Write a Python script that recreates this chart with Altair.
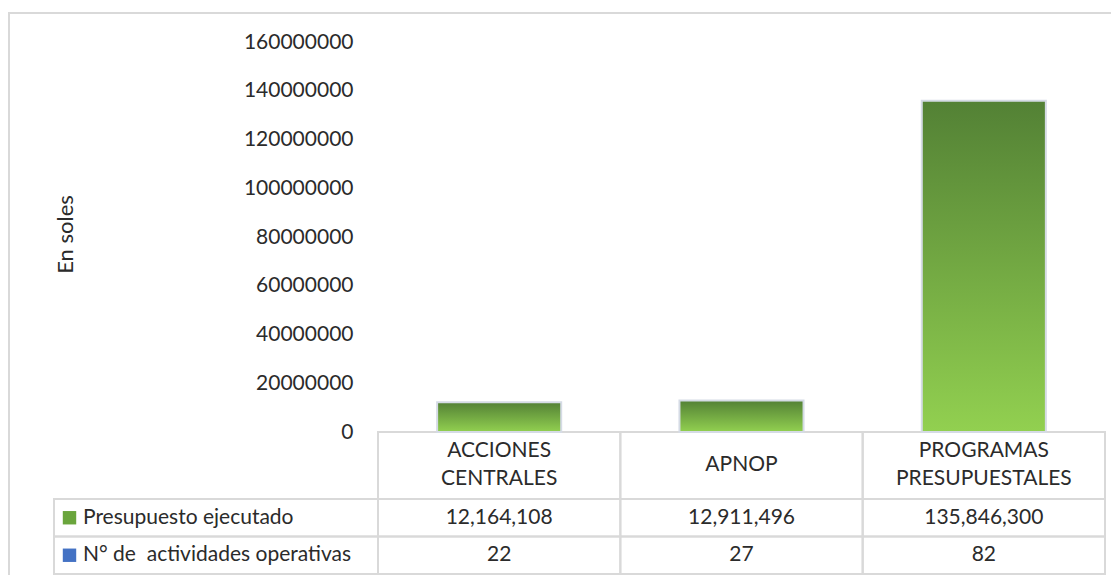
import altair as alt
import pandas as pd

# ---- data ----
categories = ["ACCIONES CENTRALES", "APNOP", "PROGRAMAS PRESUPUESTALES"]
presupuesto = [12164108, 12911496, 135846300]
actividades = [22, 27, 82]
row_names = ["Presupuesto ejecutado", "N° de\u00a0 actividades operativas"]
y_ticks = [0, 20000000, 40000000, 60000000, 80000000, 100000000, 120000000, 140000000, 160000000]
y_domain = [0, 160000000]

FONT = "Lato"
TXT = "#2b2b2b"
GRID = "#d9d9d9"

bars_df = pd.DataFrame({"cat": categories, "value": presupuesto})
rows_df = pd.DataFrame({"row": row_names})
cats_df = pd.DataFrame({"cat": categories})
cells = []
for c, p, a in zip(categories, presupuesto, actividades):
    cells.append({"cat": c, "row": row_names[0], "txt": f"{p:,}"})
    cells.append({"cat": c, "row": row_names[1], "txt": f"{a}"})
cells_df = pd.DataFrame(cells)

# header label lines: split words onto lines, slot names tell which line
slots = ["top", "middle", "bottom"]
hdr = []
for c in categories:
    words = c.split(" ")
    if len(words) == 1:
        hdr.append({"cat": c, "line": words[0], "slot": "middle"})
    else:
        hdr.append({"cat": c, "line": words[0], "slot": "top"})
        hdr.append({"cat": c, "line": " ".join(words[1:]), "slot": "bottom"})
hdr_df = pd.DataFrame(hdr)

# scales
x_scale = alt.Scale(domain=categories, range=[370, 1097], paddingInner=0, paddingOuter=0)
y_scale = alt.Scale(domain=y_domain, range=[424, 34], nice=False)
row_scale = alt.Scale(domain=row_names, range=[491, 566], paddingInner=0, paddingOuter=0)
slot_scale = alt.Scale(type="point", domain=slots, range=[443, 471], padding=0)

X = alt.X("cat:N", scale=x_scale, axis=None, sort=categories)
XC = alt.X("cat:N", scale=x_scale, axis=None, sort=categories, bandPosition=0.5)
ROW = alt.Y("row:N", scale=row_scale, axis=None, sort=row_names)
ROWC = alt.Y("row:N", scale=row_scale, axis=None, sort=row_names, bandPosition=0.5)

grad = alt.Gradient(
    gradient="linear",
    stops=[alt.GradientStop(color="#538135", offset=0),
           alt.GradientStop(color="#92D050", offset=1)],
    x1=0, x2=0, y1=0, y2=1,
)

bars = alt.Chart(bars_df).mark_bar(
    width=alt.RelativeBandSize(0.512), fill=grad, stroke="#d5dbe5", strokeWidth=2
).encode(
    x=X,
    y=alt.Y("value:Q", scale=y_scale,
            axis=alt.Axis(values=y_ticks, format="d", orient="left", offset=-370,
                          domain=False, ticks=False, tickSize=0, grid=False,
                          labelPadding=25, labelFont=FONT, labelFontSize=21, labelColor=TXT,
                          title="En soles", titleFont=FONT, titleFontSize=22,
                          titleFontWeight="normal", titleColor=TXT,
                          titleX=-313, titleY=226, titleAngle=-90,
                          titleBaseline="middle", titleAlign="center")),
)

# table frames
row_frames = alt.Chart(rows_df).mark_rect(
    fillOpacity=0, stroke=GRID, strokeWidth=2
).encode(x=alt.value(46), x2=alt.value(1097), y=ROW)

col_frames = alt.Chart(cats_df).mark_rect(
    fillOpacity=0, stroke=GRID, strokeWidth=2
).encode(x=X, y=alt.value(424), y2=alt.value(566))

header = alt.Chart(hdr_df).mark_text(
    font=FONT, fontSize=21, color=TXT, baseline="middle", align="center"
).encode(x=XC, y=alt.Y("slot:N", scale=slot_scale, axis=None, sort=slots), text="line:N")

squares = alt.Chart(rows_df).mark_point(
    shape="square", filled=True, size=180, opacity=1
).encode(
    x=alt.value(61.5), y=ROWC,
    color=alt.Color("row:N", scale=alt.Scale(domain=row_names, range=["#6aa53c", "#4472C4"]), legend=None),
)

row_labels = alt.Chart(rows_df).mark_text(
    font=FONT, fontSize=21, color=TXT, align="left", baseline="middle"
).encode(x=alt.value(75), y=ROWC, text="row:N")

values = alt.Chart(cells_df).mark_text(
    font=FONT, fontSize=21, color=TXT, align="center", baseline="middle"
).encode(x=XC, y=ROWC, text="txt:N")

frame_left = alt.Chart(cats_df.head(1)).mark_rule(color=GRID, strokeWidth=2).encode(
    x=alt.value(1), y=alt.value(4), y2=alt.value(567))
frame_top = alt.Chart(cats_df.head(1)).mark_rule(color=GRID, strokeWidth=2).encode(
    x=alt.value(0), x2=alt.value(1103), y=alt.value(5))

chart = alt.layer(
    frame_left, frame_top, row_frames, col_frames, bars, header, squares, row_labels, values
).resolve_scale(y="independent", color="independent").properties(
    width=1103, height=567,
    autosize=alt.AutoSizeParams(type="none"),
    padding=0,
    background="white",
).configure_view(strokeWidth=0)

chart.save("out.html", embed_options={"renderer": "svg", "actions": False})
